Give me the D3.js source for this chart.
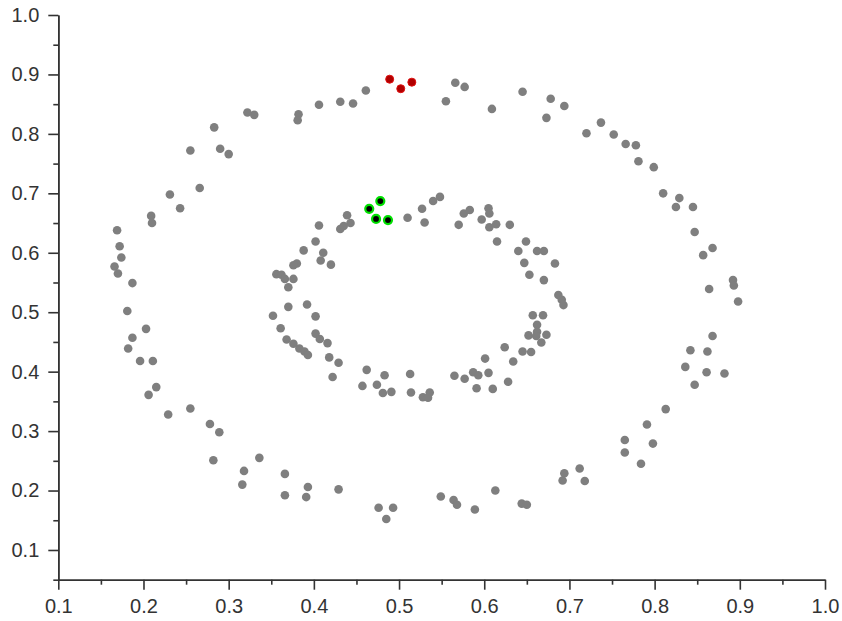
<!DOCTYPE html>
<html>
<head>
<meta charset="utf-8">
<script src="https://cdn.jsdelivr.net/npm/d3@7"></script>
<style>
  body { margin: 0; background: #fff; }
  .tick text { font-family: "Liberation Sans", Arial, sans-serif; font-size: 20px; fill: #333; }
  .domain, .tick line { stroke: #333; stroke-width: 1.6; }
</style>
</head>
<body>
<div id="chart"></div>
<script>
// outer ring (gray)
var outerX = [0.169,0.172,0.174,0.166,0.170,0.187,0.181,0.203,0.187,0.182,0.196,0.211,0.215,0.206,0.229,0.255,0.278,0.289,0.282,0.336,
  0.318,0.316,0.366,0.366,0.393,0.391,0.429,0.476,0.493,0.485,0.549,0.564,0.568,0.589,0.613,0.644,0.650,0.694,0.692,0.712,
  0.718,0.765,0.765,0.784,0.798,0.791,0.813,0.847,0.836,0.861,0.882,0.842,0.862,0.868,0.864,0.892,0.893,0.898,0.868,0.857,
  0.847,0.829,0.825,0.845,0.810,0.799,0.781,0.766,0.778,0.752,0.737,0.720,0.694,0.678,0.673,0.645,0.609,0.577,0.566,0.555,
  0.461,0.446,0.431,0.406,0.382,0.381,0.330,0.322,0.283,0.300,0.290,0.255,0.266,0.231,0.243,0.209,0.210];
var outerY = [0.638,0.611,0.592,0.577,0.565,0.549,0.502,0.472,0.457,0.439,0.418,0.418,0.374,0.361,0.328,0.338,0.312,0.298,0.251,0.255,
  0.233,0.210,0.228,0.192,0.206,0.189,0.202,0.171,0.171,0.152,0.190,0.184,0.176,0.168,0.200,0.178,0.176,0.229,0.217,0.237,
  0.216,0.285,0.264,0.245,0.279,0.311,0.337,0.378,0.408,0.399,0.397,0.436,0.434,0.460,0.539,0.554,0.545,0.518,0.608,0.596,
  0.635,0.692,0.677,0.677,0.700,0.744,0.754,0.783,0.781,0.799,0.819,0.801,0.847,0.859,0.827,0.871,0.842,0.879,0.886,0.855,
  0.873,0.851,0.854,0.849,0.833,0.823,0.832,0.836,0.811,0.766,0.775,0.772,0.709,0.698,0.675,0.662,0.650];

// inner ring (gray)
var innerX = [0.406,0.402,0.388,0.411,0.408,0.420,0.380,0.376,0.356,0.362,0.366,0.376,0.370,0.439,0.443,0.431,0.435,0.510,0.527,0.530,
  0.540,0.548,0.570,0.576,0.583,0.605,0.606,0.597,0.606,0.614,0.630,0.615,0.649,0.640,0.662,0.670,0.647,0.653,0.670,0.683,
  0.687,0.691,0.693,0.657,0.669,0.662,0.662,0.652,0.661,0.673,0.667,0.624,0.645,0.655,0.634,0.601,0.628,0.565,0.577,0.587,
  0.593,0.605,0.591,0.610,0.528,0.536,0.534,0.513,0.514,0.483,0.491,0.481,0.474,0.457,0.462,0.429,0.422,0.418,0.370,0.392,
  0.352,0.402,0.361,0.402,0.407,0.416,0.368,0.376,0.383,0.389,0.393];
var innerY = [0.646,0.619,0.604,0.600,0.587,0.580,0.582,0.579,0.564,0.563,0.556,0.556,0.542,0.663,0.650,0.640,0.645,0.659,0.674,0.651,
  0.687,0.694,0.647,0.666,0.672,0.675,0.666,0.656,0.643,0.648,0.647,0.619,0.619,0.603,0.603,0.603,0.583,0.563,0.554,0.582,
  0.529,0.521,0.512,0.495,0.495,0.479,0.467,0.461,0.460,0.462,0.449,0.441,0.434,0.433,0.417,0.422,0.383,0.393,0.388,0.399,
  0.394,0.398,0.372,0.371,0.357,0.365,0.356,0.396,0.365,0.394,0.366,0.364,0.378,0.376,0.403,0.415,0.391,0.424,0.509,0.513,
  0.494,0.493,0.473,0.464,0.455,0.448,0.454,0.447,0.439,0.434,0.428];

// highlighted groups
var redX = [0.489, 0.502, 0.515];
var redY = [0.892, 0.876, 0.887];
var greenX = [0.478, 0.465, 0.473, 0.487];
var greenY = [0.687, 0.674, 0.657, 0.655];

var xMajor = [0.1,0.2,0.3,0.4,0.5,0.6,0.7,0.8,0.9,1.0];
var xMinor = [0.15,0.25,0.35,0.45,0.55,0.65,0.75,0.85,0.95];
var yMajor = [0.1,0.2,0.3,0.4,0.5,0.6,0.7,0.8,0.9,1.0];
var yMinor = [0.05,0.15,0.25,0.35,0.45,0.55,0.65,0.75,0.85,0.95];

var svgWidth = 842, svgHeight = 621;
var margin = { top: 15, right: 17, bottom: 41.3, left: 58.3 };
var chartWidth = svgWidth - margin.left - margin.right;
var chartHeight = svgHeight - margin.top - margin.bottom;

var svg = d3.select("#chart").append("svg")
    .attr("width", svgWidth)
    .attr("height", svgHeight);

var chartGroup = svg.append("g")
    .attr("transform", `translate(${margin.left}, ${margin.top})`);

var xScale = d3.scaleLinear().domain([0.1, 1.0]).range([0, chartWidth]);
var yScale = d3.scaleLinear().domain([0.05, 1.0]).range([chartHeight, 0]);

// minor ticks first, then major axes with labels
chartGroup.append("g")
    .attr("transform", `translate(0, ${chartHeight})`)
    .call(d3.axisBottom(xScale).tickValues(xMinor).tickSize(5).tickSizeOuter(0).tickFormat(""));
chartGroup.append("g")
    .call(d3.axisLeft(yScale).tickValues(yMinor).tickSize(5).tickSizeOuter(0).tickFormat(""));

chartGroup.append("g")
    .attr("transform", `translate(0, ${chartHeight})`)
    .call(d3.axisBottom(xScale).tickValues(xMajor).tickSize(10).tickSizeOuter(0)
        .tickPadding(9).tickFormat(d3.format(".1f")));
chartGroup.append("g")
    .call(d3.axisLeft(yScale).tickValues(yMajor).tickSize(10).tickSizeOuter(0)
        .tickPadding(9).tickFormat(d3.format(".1f")));

var grayData = outerX.map((x, i) => [x, outerY[i]])
    .concat(innerX.map((x, i) => [x, innerY[i]]));

chartGroup.selectAll("circle.gray")
    .data(grayData)
    .enter()
    .append("circle")
    .attr("class", "gray")
    .attr("cx", d => xScale(d[0]))
    .attr("cy", d => yScale(d[1]))
    .attr("r", 4.3)
    .attr("fill", "#7f7f7f");

chartGroup.selectAll("circle.red")
    .data(redX.map((x, i) => [x, redY[i]]))
    .enter()
    .append("circle")
    .attr("class", "red")
    .attr("cx", d => xScale(d[0]))
    .attr("cy", d => yScale(d[1]))
    .attr("r", 4)
    .attr("fill", "#b00000")
    .attr("stroke", "#e01010")
    .attr("stroke-width", 1);

chartGroup.selectAll("circle.green")
    .data(greenX.map((x, i) => [x, greenY[i]]))
    .enter()
    .append("circle")
    .attr("class", "green")
    .attr("cx", d => xScale(d[0]))
    .attr("cy", d => yScale(d[1]))
    .attr("r", 4)
    .attr("fill", "#000")
    .attr("stroke", "#00e000")
    .attr("stroke-width", 2.2);
</script>
</body>
</html>
